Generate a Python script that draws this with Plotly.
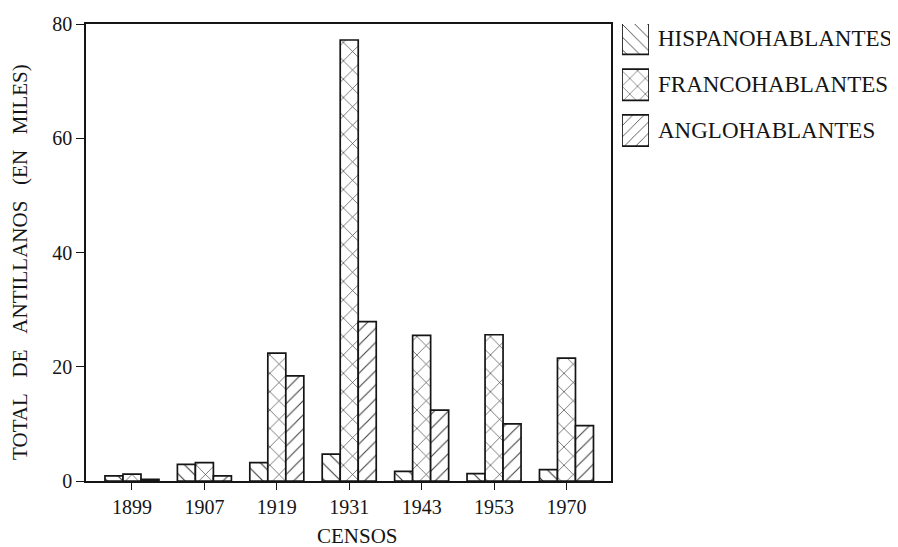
import plotly.graph_objects as go

censos = ["1899", "1907", "1919", "1931", "1943", "1953", "1970"]
hispano = [0.9, 2.9, 3.2, 4.7, 1.7, 1.3, 2.0]
franco = [1.2, 3.2, 22.4, 77.2, 25.5, 25.6, 21.5]
anglo = [0.3, 0.9, 18.4, 27.9, 12.4, 10.0, 9.7]
series_names = ["HISPANOHABLANTES", "FRANCOHABLANTES", "ANGLOHABLANTES"]
y_ticks = [0, 20, 40, 60, 80]

FONT = "Liberation Serif, Times New Roman, serif"
INK = "#151515"
shapes = ["\\", "x", "/"]
sizes = [11, 13, 10]

# the page body adds an 8px margin; work in reference pixels and shift
OFF = 8
W, H = 898 - OFF, 547 - OFF
ML, MT = 86 - OFF, 20 - OFF
MB = 547 - 481
MR = 5
PW = W - ML - MR
PH = H - MT - MB
plot_right = 611

def px_to_paper_x(px):
    return (px - OFF - ML) / PW

def px_to_paper_y(py):
    return (H - MB - (py - OFF)) / PH

fig = go.Figure()
for name, vals, shp, sz in zip(series_names, [hispano, franco, anglo], shapes, sizes):
    fig.add_trace(go.Bar(
        x=censos, y=vals, name=name, showlegend=False,
        marker=dict(color="white", line=dict(color=INK, width=1.7),
                    pattern=dict(shape=shp, size=sz, solidity=0.1,
                                 fgcolor="#3a3a3a", bgcolor="white", fillmode="replace")),
        xaxis="x", yaxis="y",
    ))

# legend swatches drawn as bars in a small side axis
for name, shp, sz in zip(series_names, shapes, sizes):
    fig.add_trace(go.Bar(
        x=[1], y=[name], orientation="h", width=0.68, showlegend=False,
        marker=dict(color="white", line=dict(color=INK, width=1.7),
                    pattern=dict(shape=shp, size=sz - 2, solidity=0.1,
                                 fgcolor="#3a3a3a", bgcolor="white", fillmode="replace")),
        xaxis="x2", yaxis="y2", hoverinfo="skip",
    ))

annotations = []
for name in series_names:
    annotations.append(dict(
        x=px_to_paper_x(656), xref="paper", y=name, yref="y2",
        text=name, showarrow=False, xanchor="left", yanchor="middle",
        font=dict(family=FONT, size=23, color=INK),
    ))

ytitle = "TOTAL\u00a0\u00a0\u00a0DE\u00a0\u00a0\u00a0ANTILLANOS\u00a0\u00a0\u00a0(EN\u00a0\u00a0\u00a0MILES)"
annotations.append(dict(
    x=px_to_paper_x(20), xref="paper", y=px_to_paper_y(260), yref="paper",
    text=ytitle, textangle=-90, showarrow=False, xanchor="center", yanchor="middle",
    font=dict(family=FONT, size=21, color=INK),
))
annotations.append(dict(
    x=px_to_paper_x(357), xref="paper", y=px_to_paper_y(536), yref="paper",
    text="CENSOS", showarrow=False, xanchor="center", yanchor="middle",
    font=dict(family=FONT, size=21, color=INK),
))

fig.update_layout(
    width=W, height=H,
    margin=dict(l=ML, r=MR, t=MT, b=MB),
    paper_bgcolor="white", plot_bgcolor="white",
    barmode="group", bargap=0.254, bargroupgap=0,
    font=dict(family=FONT, size=20, color=INK),
    xaxis=dict(
        domain=[0, px_to_paper_x(plot_right)], type="category",
        range=[-0.635, 6.615], showline=True, linecolor=INK, linewidth=1.6,
        mirror=True, ticks="outside", ticklen=7, tickwidth=1.4, tickcolor=INK,
        showgrid=False, zeroline=False, tickfont=dict(family=FONT, size=20, color=INK),
        anchor="y",
    ),
    yaxis=dict(
        domain=[0, 1], range=[0, 80], tickvals=y_ticks, showline=True,
        linecolor=INK, linewidth=1.6, mirror=True, ticks="outside", ticklen=8,
        tickwidth=1.4, tickcolor=INK, showgrid=False, zeroline=False,
        tickfont=dict(family=FONT, size=20, color=INK), anchor="x",
    ),
    xaxis2=dict(
        domain=[px_to_paper_x(622), px_to_paper_x(649)], range=[0, 1],
        visible=False, anchor="y2",
    ),
    yaxis2=dict(
        domain=[px_to_paper_y(158.3), 1], range=[2.666, -0.324], type="category",
        categoryorder="array", categoryarray=series_names,
        visible=False, anchor="x2",
    ),
    annotations=annotations,
)

fig.write_html("out.html")
